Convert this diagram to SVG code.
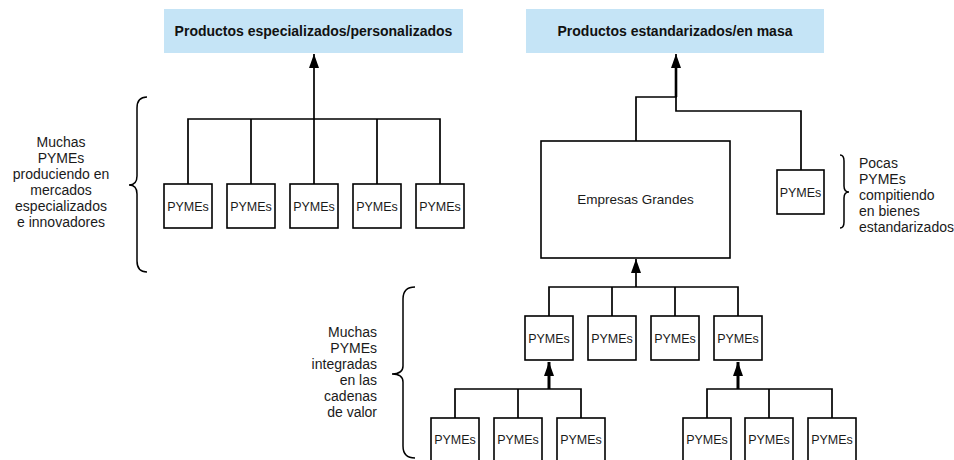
<svg xmlns="http://www.w3.org/2000/svg" width="954" height="460" viewBox="0 0 954 460">
<defs>
<marker id="ahUp" markerUnits="userSpaceOnUse" markerWidth="12" markerHeight="16" viewBox="0 0 12 16" refX="6" refY="0" orient="0"><path d="M6 0 L11 14 L1 14 Z" fill="#000"/></marker>
</defs>
<style>
.hdr{fill:#C5E4F6;stroke:none}
.ht{font-family:"Liberation Sans",Arial,sans-serif;font-size:14px;font-weight:bold;fill:#111;text-anchor:middle}
.box{fill:#fff;stroke:#000;stroke-width:1.6}
.bt{font-family:"Liberation Sans",Arial,sans-serif;font-size:12.5px;fill:#1a1a1a;text-anchor:middle}
.lt{font-family:"Liberation Sans",Arial,sans-serif;font-size:14px;fill:#1a1a1a}
.ln{fill:none;stroke:#000;stroke-width:1.7}
.thk{fill:none;stroke:#000;stroke-width:3}
.br{fill:none;stroke:#000;stroke-width:1.5}
</style>

<g id="hdr-left"><rect class="hdr" x="164" y="9" width="299" height="44"/><text class="ht" x="313.5" y="36">Productos especializados/personalizados</text></g>
<g id="hdr-right"><rect class="hdr" x="526" y="9" width="298" height="44"/><text class="ht" x="675" y="36">Productos estandarizados/en masa</text></g>

<g id="connectors">
<path class="ln" d="M188 184 V119 H440 V184 M251 119 V184 M377 119 V184"/>
<path class="ln" d="M314 184 V54" marker-end="url(#ahUp)"/>
<path class="ln" d="M636 141 V97 H676 V54" marker-end="url(#ahUp)"/>
<path class="ln" d="M801 170 V111 H676 V97"/>
<line x1="676" y1="97" x2="676" y2="60" stroke="#000" stroke-width="2.6"/>
<path class="ln" d="M549 316 V287 H738 V316 M612 287 V316 M675 287 V316"/>
<path class="ln" d="M636 287 V259" marker-end="url(#ahUp)"/>
<path class="ln" d="M455 418 V389 H581 V418 M518 389 V418"/>
<path class="thk" d="M549 389 V362" marker-end="url(#ahUp)"/>
<path class="ln" d="M707 418 V389 H832 V418 M769 389 V418"/>
<path class="thk" d="M738 389 V362" marker-end="url(#ahUp)"/>
</g>

<g id="p1"><rect class="box" x="164" y="184" width="48" height="44"/><text class="bt" x="188" y="210.5">PYMEs</text></g>
<g id="p2"><rect class="box" x="227" y="184" width="48" height="44"/><text class="bt" x="251" y="210.5">PYMEs</text></g>
<g id="p3"><rect class="box" x="290" y="184" width="48" height="44"/><text class="bt" x="314" y="210.5">PYMEs</text></g>
<g id="p4"><rect class="box" x="353" y="184" width="48" height="44"/><text class="bt" x="377" y="210.5">PYMEs</text></g>
<g id="p5"><rect class="box" x="416" y="184" width="48" height="44"/><text class="bt" x="440" y="210.5">PYMEs</text></g>

<g id="grandes"><rect class="box" x="541" y="141" width="189" height="117"/><text class="bt" style="font-size:13.5px" x="635.5" y="204">Empresas Grandes</text></g>
<g id="p-right"><rect class="box" x="777" y="170" width="47" height="44"/><text class="bt" x="800.5" y="196.5">PYMEs</text></g>

<g id="m1"><rect class="box" x="525" y="316" width="48" height="44"/><text class="bt" x="549" y="342.5">PYMEs</text></g>
<g id="m2"><rect class="box" x="588" y="316" width="48" height="44"/><text class="bt" x="612" y="342.5">PYMEs</text></g>
<g id="m3"><rect class="box" x="651" y="316" width="48" height="44"/><text class="bt" x="675" y="342.5">PYMEs</text></g>
<g id="m4"><rect class="box" x="714" y="316" width="48" height="44"/><text class="bt" x="738" y="342.5">PYMEs</text></g>

<g id="b1"><rect class="box" x="431" y="418" width="48" height="48"/><text class="bt" x="455" y="444">PYMEs</text></g>
<g id="b2"><rect class="box" x="494" y="418" width="48" height="48"/><text class="bt" x="518" y="444">PYMEs</text></g>
<g id="b3"><rect class="box" x="557" y="418" width="48" height="48"/><text class="bt" x="581" y="444">PYMEs</text></g>
<g id="b4"><rect class="box" x="683" y="418" width="48" height="48"/><text class="bt" x="707" y="444">PYMEs</text></g>
<g id="b5"><rect class="box" x="745" y="418" width="48" height="48"/><text class="bt" x="769" y="444">PYMEs</text></g>
<g id="b6"><rect class="box" x="808" y="418" width="48" height="48"/><text class="bt" x="832" y="444">PYMEs</text></g>

<g id="label-left">
<path class="br" d="M147 97 C140 97 137 101 137 108 V176 C137 182 134 185 129 185 C134 185 137 188 137 194 V261 C137 268 140 272 147 272"/>
<text class="lt" text-anchor="middle" x="61"><tspan x="61" y="147">Muchas</tspan><tspan x="61" y="163">PYMEs</tspan><tspan x="61" y="179">produciendo en</tspan><tspan x="61" y="195">mercados</tspan><tspan x="61" y="211">especializados</tspan><tspan x="61" y="227">e innovadores</tspan></text>
</g>
<g id="label-right">
<path class="br" d="M840 155 C843 155 844 157 844 161 V186 C844 190 846 192 849 192 C846 192 844 194 844 198 V222 C844 226 843 228 840 228"/>
<text class="lt" x="859"><tspan x="859" y="168">Pocas</tspan><tspan x="859" y="184">PYMEs</tspan><tspan x="859" y="200">compitiendo</tspan><tspan x="859" y="216">en bienes</tspan><tspan x="859" y="232">estandarizados</tspan></text>
</g>
<g id="label-bottom">
<path class="br" d="M415 287 C407 287 403 291 403 299 V366 C403 371 399 374 392 374 C399 374 403 377 403 382 V446 C403 454 407 458 415 458"/>
<text class="lt" text-anchor="end"><tspan x="377" y="337">Muchas</tspan><tspan x="377" y="353">PYMEs</tspan><tspan x="377" y="369">integradas</tspan><tspan x="377" y="385">en las</tspan><tspan x="377" y="401">cadenas</tspan><tspan x="377" y="417">de valor</tspan></text>
</g>
</svg>
